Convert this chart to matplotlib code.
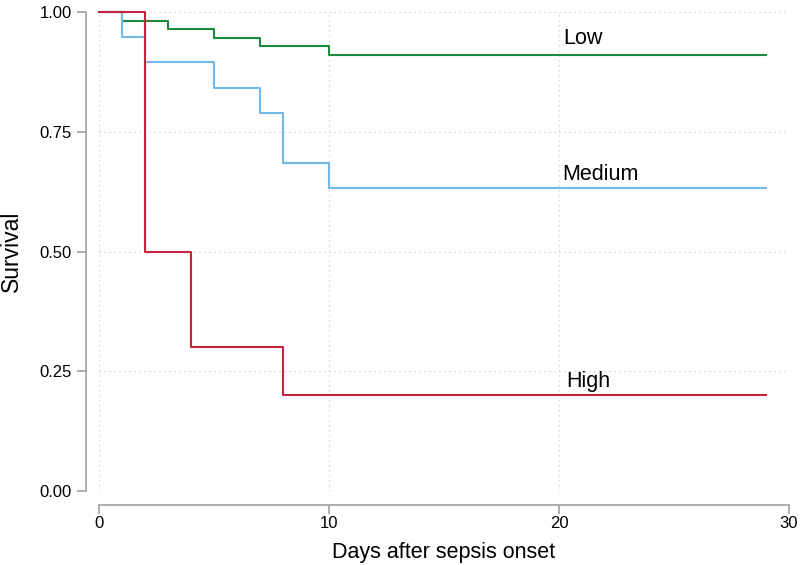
import matplotlib
matplotlib.use("Agg")
import matplotlib.pyplot as plt

plt.rcParams['font.family'] = ['Liberation Sans', 'DejaVu Sans']

# Kaplan-Meier step estimates
low_days = [0, 1, 3, 5, 7, 10, 29]
low_surv = [1.0, 0.982, 0.964, 0.946, 0.929, 0.911, 0.911]

med_days = [0, 1, 2, 5, 7, 8, 10, 29]
med_surv = [1.0, 0.947, 0.895, 0.842, 0.789, 0.684, 0.632, 0.632]

high_days = [0, 2, 4, 8, 29]
high_surv = [1.0, 0.5, 0.3, 0.2, 0.2]

labels = ['Low', 'Medium', 'High']
label_x = [20.2, 20.15, 20.3]
label_y = [0.933, 0.649, 0.218]

x_ticks = [0, 10, 20, 30]
y_ticks = [0.0, 0.25, 0.5, 0.75, 1.0]

fig = plt.figure(figsize=(8, 5.65), dpi=100)
ax = fig.add_axes([99 / 800, 74 / 565, 690 / 800, 479 / 565])

grid_kw = dict(color='#cccccc', lw=0.9, ls=(0, (1, 3)), zorder=0)
for gx in x_ticks:
    ax.axvline(gx, **grid_kw)
for gy in y_ticks[1:]:
    ax.axhline(gy, **grid_kw)

ax.step(low_days, low_surv, where='post', color='#1d8a41', lw=1.5, clip_on=False)
ax.step(med_days, med_surv, where='post', color='#72b9e8', lw=1.5, clip_on=False)
ax.step(high_days, high_surv, where='post', color='#c9223f', lw=1.5, clip_on=False)

for name, tx, ty in zip(labels, label_x, label_y):
    ax.text(tx, ty, name, fontsize=15.5, ha='left', va='baseline')

ax.set_xlim(0, 30)
ax.set_ylim(0, 1)
ax.set_xticks(x_ticks)
ax.set_yticks(y_ticks)
ax.set_yticklabels(['%.2f' % v for v in y_ticks])

# spines sit a little away from the data area (outward is in points)
for side in ['top', 'right']:
    ax.spines[side].set_visible(False)
ax.spines['left'].set_position(('outward', 9.4))
ax.spines['bottom'].set_position(('outward', 10))
for side in ['left', 'bottom']:
    ax.spines[side].set_color('#a0a0a0')
    ax.spines[side].set_linewidth(1.2)
ax.tick_params(colors='#a0a0a0', labelcolor='black', labelsize=12, length=6.5, width=1.2)
ax.tick_params(axis='x', pad=1.5)
ax.tick_params(axis='y', pad=3.5)

ax.set_xlabel('Days after sepsis onset', fontsize=15.5, labelpad=8)
ax.set_ylabel('Survival', fontsize=16.5, labelpad=12)

fig.savefig('out.png', dpi=100)
